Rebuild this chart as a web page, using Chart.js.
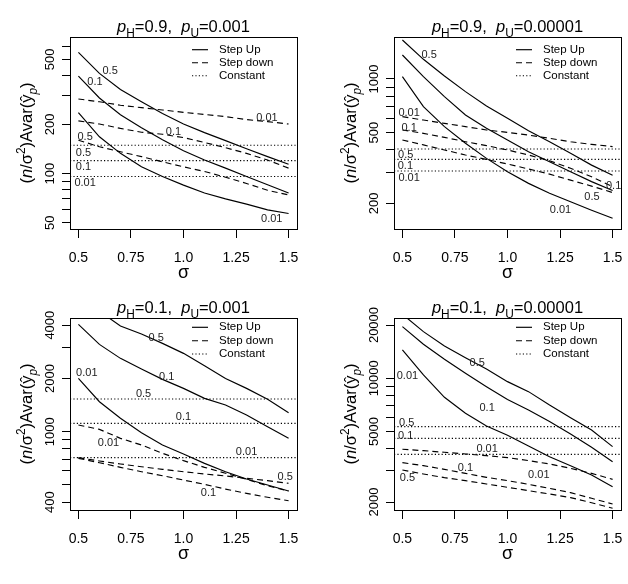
<!DOCTYPE html>
<html><head><meta charset="utf-8">
<script src="https://cdn.jsdelivr.net/npm/chart.js@4.4.1/dist/chart.umd.min.js"></script>
<style>
html,body{margin:0;padding:0;background:#fff;overflow:hidden;}
#wrap{position:relative;width:628px;height:584px;background:#fff;}
.pc{position:absolute;width:314px;height:292px;}
canvas{display:block;}
</style></head><body>
<div id="wrap">
<div class="pc" style="left:0;top:0"><canvas id="c1" width="314" height="292"></canvas></div>
<div class="pc" style="left:314px;top:0"><canvas id="c2" width="314" height="292"></canvas></div>
<div class="pc" style="left:0;top:292px"><canvas id="c3" width="314" height="292"></canvas></div>
<div class="pc" style="left:314px;top:292px"><canvas id="c4" width="314" height="292"></canvas></div>
</div>
<script>
// ---------- data ----------
const SIGMA = [0.5,0.6,0.7,0.8,0.9,1.0,1.1,1.2,1.3,1.4,1.5];
const X_MIN = 0.46, X_MAX = 1.54;
const X_TICKS = [0.5,0.75,1.0,1.25,1.5];
const X_TICK_LABELS = ['0.5','0.75','1.0','1.25','1.5'];
const LEGEND_LABELS = ['Step Up','Step down','Constant'];

// Panel 1: pH=0.9, pU=0.001
const P1_TITLE = ['0.9','0.001'];
const P1_UP = [[551,410,327,275,233,201,178,159,142,127,114],
               [395,290,229,191,161,138,121,108,96,85.5,76],
               [236,168,133,110,96,85,76,70,65,60,57]];
const P1_DOWN = [[160,146,136,127,118,110,103,95,87,79,74],
                 [210,201,189,179,174,166,155,144,133,121,108],
                 [286,275,262,253,245,237,230,223,214,208,201]];
const P1_CONST = [149,120,96];
const P1_Y_RANGE = [45.8,685];
const P1_Y_TICKS = [50,60,70,80,90,100,200,300,400,500,600];
const P1_Y_LABELS = [50,100,200,500];

// Panel 2: pH=0.9, pU=0.00001
const P2_TITLE = ['0.9','0.00001'];
const P2_UP = [[1656,1290,1040,849,705,601,512,444,382,328,288],
               [1364,1031,796,628,528,454,390,343,301,265,236],
               [1031,699,540,435,358,301,259,228,204,183,165]];
const P2_DOWN = [[454,426,399,374,353,333,312,292,270,250,230],
                 [517,495,470,444,422,399,374,347,315,282,248],
                 [614,588,563,540,517,501,484,464,444,429,417]];
const P2_CONST = [404,353,304];
const P2_Y_RANGE = [143.5,1722];
const P2_Y_TICKS = [200,300,400,500,600,700,800,900,1000];
const P2_Y_LABELS = [200,500,1000];

// Panel 3: pH=0.1, pU=0.001
const P3_TITLE = ['0.1','0.001'];
const P3_UP = [[5800,4800,3954,3563,3155,2771,2360,2000,1757,1523,1280],
               [4040,3114,2596,2260,1975,1757,1543,1415,1242,1067,917],
               [2000,1477,1190,987,841,748,662,594,540,500,462]];
const P3_DOWN = [[713,683,657,634,613,594,577,562,545,529,511],
                 [707,668,629,594,564,533,504,474,448,426,407],
                 [1091,1031,917,841,755,686,629,582,538,495,462]];
const P3_CONST = [1530,1115,713];
const P3_Y_RANGE = [361,4390];
const P3_Y_TICKS = [400,500,600,700,800,900,1000,2000,3000,4000];
const P3_Y_LABELS = [400,1000,2000,4000];

// Panel 4: pH=0.1, pU=0.00001
const P4_TITLE = ['0.1','0.00001'];
const P4_UP = [[23000,18350,15230,13085,11290,9576,8407,7067,5995,5106,4111],
               [19590,15560,12800,10670,8970,7600,6620,5700,4850,4080,3380],
               [14460,10440,7809,6343,5379,4764,4147,3608,3210,2844,2443]];
const P4_DOWN = [[3034,2880,2746,2642,2529,2423,2318,2220,2118,1983,1844],
                 [3338,3210,3060,2904,2758,2642,2518,2390,2260,2099,1950],
                 [3971,3903,3819,3738,3656,3563,3428,3281,3100,2904,2687]];
const P4_CONST = [5333,4581,3720];
const P4_Y_RANGE = [1803,21910];
const P4_Y_TICKS = [2000,3000,4000,5000,6000,7000,8000,9000,10000,20000];
const P4_Y_LABELS = [2000,5000,10000,20000];

// curve labels anchored in data space: [text, sigma, value]
const P1_NOTES = [['0.5',0.651,426],['0.1',0.579,365],['0.01',1.42,52.6],
                  ['0.01',1.397,218],['0.1',0.952,180],['0.5',0.532,168],
                  ['0.5',0.524,134],['0.1',0.524,110],['0.01',0.532,88]];
const P2_NOTES = [['0.5',0.627,1364],['0.01',1.252,183],['0.1',1.505,251],
                  ['0.01',0.532,641],['0.1',0.532,533],['0.5',1.402,218],
                  ['0.5',0.516,374],['0.1',0.514,326],['0.01',0.532,276]];
const P3_NOTES = [['0.5',0.87,3368],['0.1',0.92,2028],['0.01',0.54,2155],
                  ['0.01',0.643,859],['0.5',1.484,552],['0.1',1.119,449],
                  ['0.5',0.81,1632],['0.1',1.0,1205],['0.01',1.30,764]];
const P4_NOTES = [['0.5',0.856,12260],['0.1',0.903,6768],['0.01',0.524,10300],
                  ['0.01',1.149,2844],['0.1',0.80,3100],['0.5',0.524,2723],
                  ['0.5',0.52,5566],['0.1',0.516,4742],['0.01',0.903,3971]];

// ---------- drawing ----------
const FONT = '"Liberation Sans", Arial, Helvetica, sans-serif';
const DASH = [6,4];
const DOT = [1.2,2.2];
const W = 314, H = 292;

function fontOf(p, base){
  const size = (p.sub||p.sup) ? base*0.72 : base;
  return (p.it ? 'italic ' : '') + size + 'px ' + FONT;
}
function richWidth(ctx, parts, base){
  let w = 0;
  parts.forEach(p => { ctx.font = fontOf(p, base); w += ctx.measureText(p.t).width; });
  return w;
}
function drawRich(ctx, parts, base, x, y){
  parts.forEach(p => {
    ctx.font = fontOf(p, base);
    const dy = p.sub ? base*0.28 : (p.sup ? -base*0.42 : 0);
    ctx.fillText(p.t, x, y + dy);
    x += ctx.measureText(p.t).width;
  });
}

function decor(cfg){
  return {
    id: 'decor',
    afterDraw(chart){
      const ctx = chart.ctx, a = chart.chartArea;
      const xs = chart.scales.x, ys = chart.scales.y;
      ctx.save();
      ctx.strokeStyle = '#000'; ctx.lineWidth = 1; ctx.setLineDash([]);
      ctx.strokeRect(Math.round(a.left)+0.5, Math.round(a.top)+0.5, Math.round(a.right-a.left), Math.round(a.bottom-a.top));
      ctx.fillStyle = '#000';
      // x tick labels
      ctx.font = '14px ' + FONT; ctx.textAlign = 'center'; ctx.textBaseline = 'alphabetic';
      X_TICKS.forEach((v,i) => ctx.fillText(X_TICK_LABELS[i], xs.getPixelForValue(v), a.bottom + 33));
      // x title
      ctx.font = '18px ' + FONT;
      ctx.fillText('σ', (a.left + a.right)/2, a.bottom + 49);
      // y tick labels (rotated)
      ctx.font = '13px ' + FONT; ctx.textBaseline = 'middle';
      cfg.yLabels.forEach(v => {
        ctx.save();
        ctx.translate(a.left - 19.5, ys.getPixelForValue(v));
        ctx.rotate(-Math.PI/2);
        ctx.fillText(String(v), 0, 0);
        ctx.restore();
      });
      // y title
      const yt = [{t:'('},{t:'n',it:true},{t:'/σ'},{t:'2',sup:true},{t:')Avar('},{t:'ŷ'},{t:'p',sub:true,it:true},{t:')'}];
      ctx.save();
      ctx.translate(a.left - 38, (a.top + a.bottom)/2);
      ctx.rotate(-Math.PI/2);
      ctx.textAlign = 'left'; ctx.textBaseline = 'alphabetic';
      const ytw = richWidth(ctx, yt, 16.5);
      drawRich(ctx, yt, 16.5, -ytw/2, 0);
      ctx.restore();
      // main title
      const tt = [{t:'p',it:true},{t:'H',sub:true},{t:'=' + cfg.title[0] + ',  '},{t:'p',it:true},{t:'U',sub:true},{t:'=' + cfg.title[1]}];
      ctx.textAlign = 'left'; ctx.textBaseline = 'alphabetic';
      const ttw = richWidth(ctx, tt, 16.5);
      drawRich(ctx, tt, 16.5, (a.left + a.right)/2 - ttw/2, a.top - 5);
      // legend
      const rows = cfg.legendRows;
      const dashes = [[], DASH, DOT];
      ctx.font = '11.5px ' + FONT; ctx.textBaseline = 'middle';
      LEGEND_LABELS.forEach((lab, i) => {
        const y = a.top + rows[i];
        ctx.setLineDash(dashes[i]);
        ctx.lineWidth = 1.15;
        ctx.beginPath(); ctx.moveTo(a.right - 105, y); ctx.lineTo(a.right - 89, y); ctx.stroke();
        ctx.setLineDash([]);
        ctx.fillText(lab, a.right - 78, y);
      });
      // curve labels
      ctx.font = '11px ' + FONT; ctx.fillStyle = '#222';
      ctx.textAlign = 'center'; ctx.textBaseline = 'middle';
      cfg.notes.forEach(n => ctx.fillText(n[0], xs.getPixelForValue(n[1]), ys.getPixelForValue(n[2])));
      ctx.restore();
    }
  };
}

function series(arr){ return SIGMA.map((s,i) => ({x:s, y:arr[i]})); }

function makePanel(id, cfg){
  const base = {borderColor:'#000', borderWidth:1.15, pointRadius:0, fill:false, tension:0};
  const datasets = [];
  cfg.up.forEach(arr => datasets.push(Object.assign({}, base, {data: series(arr)})));
  cfg.down.forEach(arr => datasets.push(Object.assign({}, base, {borderDash: DASH, data: series(arr)})));
  cfg.constant.forEach(v => datasets.push(Object.assign({}, base, {borderDash: DOT, data: [{x:X_MIN,y:v},{x:X_MAX,y:v}]})));
  const b = cfg.box;
  const grid = {drawOnChartArea:false, drawTicks:true, color:'#000', tickColor:'#000', lineWidth:1};
  new Chart(document.getElementById(id), {
    type: 'line',
    data: {datasets},
    options: {
      responsive: false, animation: false, events: [],
      layout: {padding: {left:0, top:b.top, right:W - b.right, bottom:0}},
      plugins: {legend:{display:false}, tooltip:{enabled:false}},
      scales: {
        x: {type:'linear', min:X_MIN, max:X_MAX,
            afterBuildTicks: s => { s.ticks = X_TICKS.map(v => ({value:v})); },
            afterFit: s => { s.height = H - b.bottom; },
            ticks: {display:false},
            grid: Object.assign({}, grid, {tickLength:9}),
            border: {display:false}},
        y: {type:'logarithmic', min:cfg.yRange[0], max:cfg.yRange[1],
            afterBuildTicks: s => { s.ticks = cfg.yTicks.map(v => ({value:v})); },
            afterFit: s => { s.width = b.left; },
            ticks: {display:false},
            grid: Object.assign({}, grid, {tickLength:8}),
            border: {display:false}}
      }
    },
    plugins: [decor(cfg)]
  });
}

const TOP_BOX_L = {left:70, right:297, top:37, bottom:229};
const TOP_BOX_R = {left:80, right:307, top:37, bottom:229};
const BOT_BOX_L = {left:70, right:297, top:26, bottom:218};
const BOT_BOX_R = {left:80, right:307, top:26, bottom:218};

makePanel('c1', {box:TOP_BOX_L, title:P1_TITLE, up:P1_UP, down:P1_DOWN, constant:P1_CONST,
  yRange:P1_Y_RANGE, yTicks:P1_Y_TICKS, yLabels:P1_Y_LABELS, notes:P1_NOTES, legendRows:[12.7,25.7,38.7]});
makePanel('c2', {box:TOP_BOX_R, title:P2_TITLE, up:P2_UP, down:P2_DOWN, constant:P2_CONST,
  yRange:P2_Y_RANGE, yTicks:P2_Y_TICKS, yLabels:P2_Y_LABELS, notes:P2_NOTES, legendRows:[12.7,25.7,38.7]});
makePanel('c3', {box:BOT_BOX_L, title:P3_TITLE, up:P3_UP, down:P3_DOWN, constant:P3_CONST,
  yRange:P3_Y_RANGE, yTicks:P3_Y_TICKS, yLabels:P3_Y_LABELS, notes:P3_NOTES, legendRows:[9.3,22.7,36]});
makePanel('c4', {box:BOT_BOX_R, title:P4_TITLE, up:P4_UP, down:P4_DOWN, constant:P4_CONST,
  yRange:P4_Y_RANGE, yTicks:P4_Y_TICKS, yLabels:P4_Y_LABELS, notes:P4_NOTES, legendRows:[9.3,22.7,36]});
</script>
</body></html>
